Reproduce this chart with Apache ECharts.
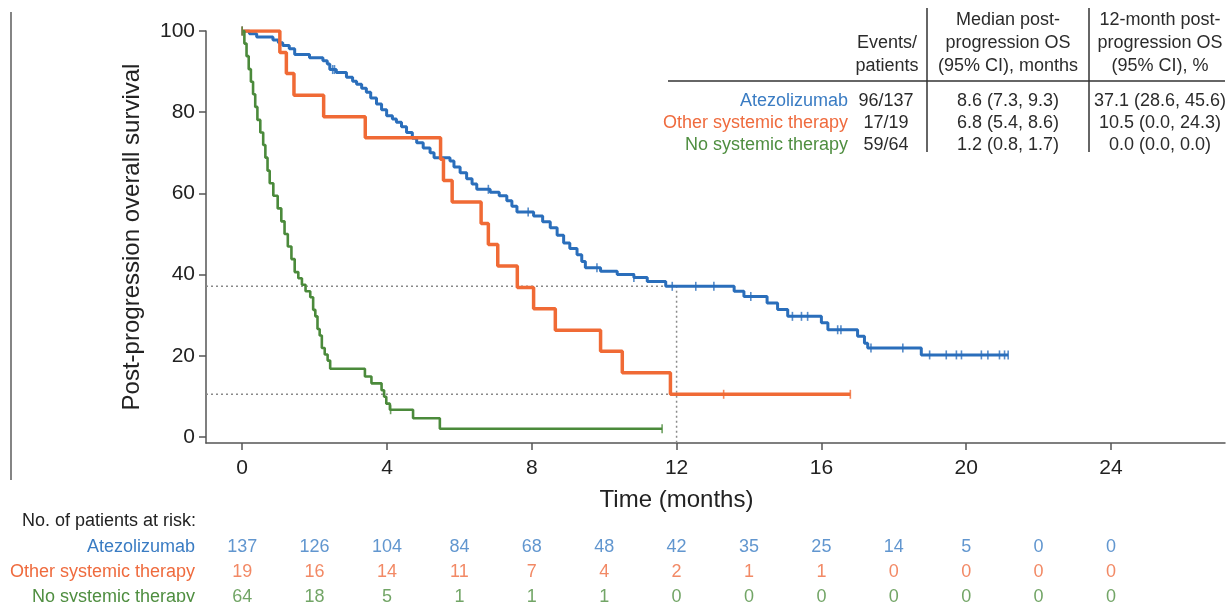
<!DOCTYPE html>
<html>
<head>
<meta charset="utf-8">
<script src="https://cdn.jsdelivr.net/npm/echarts@6/dist/echarts.min.js"></script>
<style>
  html, body { margin: 0; padding: 0; background: #fff; }
  #chart { width: 1232px; height: 602px; }
</style>
</head>
<body>
<div id="chart"></div>
<script>
// survival steps: [month, % surviving]
const atezolizumab = [
  [0, 100], [0.2, 99.3], [0.4, 98.5], [0.85, 97.8], [1.0, 97.1], [1.12, 96.4], [1.3, 95.6],
  [1.45, 94.2], [1.86, 93.4], [2.23, 92.7], [2.35, 91.9], [2.42, 90.5], [2.6, 89.8], [2.88, 88.6],
  [3.05, 87.6], [3.16, 86.9], [3.3, 85.9], [3.43, 84.9], [3.55, 83.5], [3.71, 82.0], [3.85, 80.6],
  [3.99, 79.1], [4.15, 78.3], [4.26, 77.5], [4.4, 76.4], [4.54, 75.0], [4.7, 73.6], [4.82, 72.5],
  [5.0, 71.2], [5.19, 70.0], [5.3, 68.8], [5.74, 68.0], [5.85, 66.5], [6.02, 65.1], [6.2, 63.6],
  [6.35, 62.3], [6.48, 61.0], [6.85, 60.3], [7.1, 59.4], [7.31, 58.2], [7.45, 56.8], [7.59, 55.4],
  [8.05, 54.4], [8.3, 53.0], [8.51, 51.5], [8.7, 49.7], [8.88, 47.8], [9.05, 46.4], [9.25, 44.9],
  [9.38, 43.2], [9.48, 41.7], [9.9, 40.8], [10.36, 40.0], [10.82, 39.3], [11.19, 38.3], [11.7, 37.1],
  [13.59, 35.9], [13.86, 34.6], [14.5, 33.0], [14.79, 31.4], [15.07, 29.7], [16.0, 28.1],
  [16.18, 26.4], [17.0, 24.8], [17.19, 23.1], [17.28, 21.9], [18.76, 20.2], [21.16, 20.2]
];
const otherTherapy = [
  [0, 100], [1.04, 94.7], [1.22, 89.5], [1.43, 84.2], [2.25, 78.9], [3.4, 73.7], [5.48, 68.4],
  [5.56, 63.2], [5.8, 57.9], [6.6, 52.6], [6.8, 47.4], [7.06, 42.1], [7.6, 36.8], [8.05, 31.6],
  [8.65, 26.3], [9.9, 21.1], [10.5, 15.8], [11.83, 10.5], [16.8, 10.5]
];
const noTherapy = [
  [0, 100], [0.06, 96.9], [0.12, 93.8], [0.18, 90.6], [0.24, 87.5], [0.3, 84.4], [0.36, 81.3],
  [0.42, 78.1], [0.5, 75.0], [0.58, 71.9], [0.64, 68.8], [0.7, 65.6], [0.76, 62.5], [0.86, 59.4],
  [0.98, 56.3], [1.08, 53.1], [1.17, 50.0], [1.26, 46.9], [1.36, 43.8], [1.45, 40.6], [1.55, 39.1],
  [1.65, 37.5], [1.75, 35.9], [1.88, 34.4], [1.96, 31.3], [2.02, 29.7], [2.08, 26.6], [2.14, 25.0],
  [2.2, 21.9], [2.28, 20.3], [2.36, 18.8], [2.43, 16.8], [3.39, 14.9], [3.57, 13.2], [3.85, 11.5],
  [3.92, 9.9], [3.98, 8.2], [4.08, 6.7], [4.72, 4.6], [5.46, 2.0], [11.6, 2.0]
];

// censoring times (months)
const atezoCensor = [0, 2.5, 2.55, 6.8, 7.9, 9.8, 10.82, 11.88, 12.53, 13.03, 14.05, 15.2, 15.45,
  15.62, 16.45, 16.54, 17.37, 18.25, 18.99, 19.45, 19.73, 19.87, 20.42, 20.6, 20.92, 21.06, 21.16];
const otherCensor = [0, 13.3, 16.8];
const noCensor = [0, 4.1, 11.6];

const groups = ['Atezolizumab', 'Other systemic therapy', 'No systemic therapy'];
const eventsPatients = ['96/137', '17/19', '59/64'];
const medianOS = ['8.6 (7.3, 9.3)', '6.8 (5.4, 8.6)', '1.2 (0.8, 1.7)'];
const os12 = ['37.1 (28.6, 45.6)', '10.5 (0.0, 24.3)', '0.0 (0.0, 0.0)'];
const landmarkMonth = 12;
const landmarkLevels = [37.1, 10.5];

const riskMonths = [0, 2, 4, 6, 8, 10, 12, 14, 16, 18, 20, 22, 24];
const riskAtezo = [137, 126, 104, 84, 68, 48, 42, 35, 25, 14, 5, 0, 0];
const riskOther = [19, 16, 14, 11, 7, 4, 2, 1, 1, 0, 0, 0, 0];
const riskNone = [64, 18, 5, 1, 1, 1, 0, 0, 0, 0, 0, 0, 0];

const xTicks = [0, 4, 8, 12, 16, 20, 24];
const yTicks = [0, 20, 40, 60, 80, 100];

const lineColors = ['#2a6ebb', '#f06a35', '#4b8a3b'];
const textColors = ['#3a7cc3', '#ef6b3e', '#4f8e40'];
const FONT = '"Liberation Sans", Arial, Helvetica, sans-serif';
const X_MIN = -1, X_MAX = 27.15, Y_MIN = -1.5;

function survAt (curve, t) {
    let s = curve[0][1];
    for (let i = 0; i < curve.length; i++) {
        if (curve[i][0] <= t) s = curve[i][1];
    }
    return s;
}

const curves = [atezolizumab, otherTherapy, noTherapy];
const censors = [atezoCensor, otherCensor, noCensor];
const risks = [riskAtezo, riskOther, riskNone];
const widths = [3, 3.5, 2.6];

const series = [];

// dotted landmark lines
landmarkLevels.forEach((lv, i) => {
    const d = [[X_MIN, lv], [landmarkMonth, lv]];
    if (i === 0) d.push([landmarkMonth, Y_MIN]);
    series.push({
        type: 'line', data: d, symbol: 'none', silent: true,
        lineStyle: { color: '#8a8a8a', width: 1.5, type: [2, 3] }, z: 1
    });
});

curves.forEach((c, i) => {
    series.push({
        name: groups[i], type: 'line', step: 'end', data: c, symbol: 'none',
        lineStyle: { color: lineColors[i], width: widths[i] }, z: 3
    });
    series.push({
        type: 'scatter', symbol: 'rect', symbolSize: [1.6, 9],
        data: censors[i].map(t => [t, survAt(c, t)]),
        itemStyle: { color: lineColors[i] }, z: 4
    });
});

// numbers at risk
risks.forEach((r, i) => {
    series.push({
        type: 'scatter', xAxisIndex: 1, yAxisIndex: 1, symbolSize: 0,
        data: riskMonths.map((m, k) => [m, i, r[k]]),
        label: {
            show: true, position: 'inside', formatter: p => String(p.value[2]),
            color: textColors[i], fontSize: 18, fontFamily: FONT
        }
    });
});

// top-right summary table
const graphic = [];
const txt = (text, x, y, align, color) => ({
    type: 'text', x: x, y: y, silent: true,
    style: { text: text, align: align, verticalAlign: 'middle', fill: color || '#2b2b2b', font: '18px ' + FONT }
});
graphic.push(txt('Median post-', 1008, 20, 'center'));
graphic.push(txt('12-month post-', 1160, 20, 'center'));
graphic.push(txt('Events/', 887, 43, 'center'));
graphic.push(txt('progression OS', 1008, 43, 'center'));
graphic.push(txt('progression OS', 1160, 43, 'center'));
graphic.push(txt('patients', 887, 66, 'center'));
graphic.push(txt('(95% CI), months', 1008, 66, 'center'));
graphic.push(txt('(95% CI), %', 1160, 66, 'center'));
groups.forEach((g, i) => {
    const y = 101 + i * 22;
    graphic.push(txt(g, 848, y, 'right', textColors[i]));
    graphic.push(txt(eventsPatients[i], 886, y, 'center'));
    graphic.push(txt(medianOS[i], 1008, y, 'center'));
    graphic.push(txt(os12[i], 1160, y, 'center'));
});
const ln = (x1, y1, x2, y2, w) => ({
    type: 'line', silent: true, shape: { x1: x1, y1: y1, x2: x2, y2: y2 },
    style: { stroke: '#333', lineWidth: w || 1.5 }
});
graphic.push(ln(668, 81, 1225, 81));
graphic.push(ln(927, 8, 927, 152));
graphic.push(ln(1089, 8, 1089, 152));
graphic.push(ln(11, 12, 11, 480, 1.2));
graphic.push(txt('No. of patients at risk:', 22, 521, 'left', '#222'));

const myChart = echarts.init(document.getElementById('chart'));
const option = {
    animation: false,
    backgroundColor: '#fff',
    grid: [
        { left: 206, right: 7, top: 31, bottom: 159, outerBoundsMode: 'none' },
        { left: 206, right: 7, top: 547, height: 50, outerBoundsMode: 'none' }
    ],
    xAxis: [{
        type: 'value', min: X_MIN, max: X_MAX, gridIndex: 0,
        name: 'Time (months)', nameLocation: 'middle', nameGap: 45,
        nameTextStyle: { fontSize: 24, color: '#222', fontFamily: FONT, padding: [0, 78, 0, 0] },
        axisLine: { show: true, onZero: false, lineStyle: { color: '#555', width: 1.5 } },
        axisTick: { show: true, length: 7, customValues: xTicks, lineStyle: { color: '#555', width: 1.5 } },
        axisLabel: { customValues: xTicks, fontSize: 21, color: '#222', fontFamily: FONT, margin: 15 },
        splitLine: { show: false }
    }, {
        type: 'value', min: X_MIN, max: X_MAX, gridIndex: 1, show: false
    }],
    yAxis: [{
        type: 'value', min: Y_MIN, max: 100, gridIndex: 0,
        name: 'Post-progression overall survival', nameLocation: 'middle', nameGap: 62, nameRotate: 90,
        nameTextStyle: { fontSize: 24, color: '#222', fontFamily: FONT },
        axisLine: { show: true, onZero: false, lineStyle: { color: '#555', width: 1.5 } },
        axisTick: { show: true, length: 7, customValues: yTicks, lineStyle: { color: '#555', width: 1.5 } },
        axisLabel: { customValues: yTicks, fontSize: 21, color: '#222', fontFamily: FONT, margin: 11 },
        splitLine: { show: false }
    }, {
        type: 'value', min: 0, max: 2, interval: 1, inverse: true, gridIndex: 1,
        axisLine: { show: false }, axisTick: { show: false }, splitLine: { show: false },
        axisLabel: {
            margin: 11, showMinLabel: true, showMaxLabel: true,
            formatter: v => '{g' + v + '|' + groups[v] + '}',
            rich: {
                g0: { color: textColors[0], fontSize: 18, fontFamily: FONT },
                g1: { color: textColors[1], fontSize: 18, fontFamily: FONT },
                g2: { color: textColors[2], fontSize: 18, fontFamily: FONT }
            }
        }
    }],
    series: series,
    graphic: graphic
};

myChart.setOption(option);
</script>
</body>
</html>
